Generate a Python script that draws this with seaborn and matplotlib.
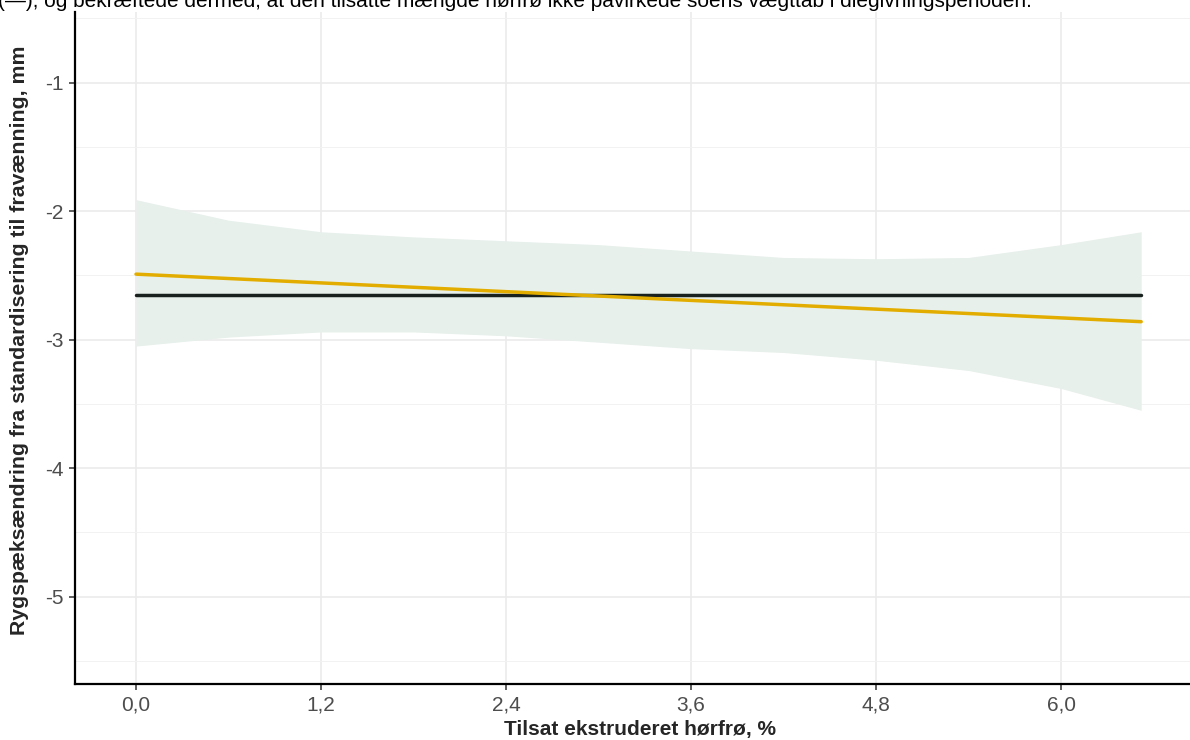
import numpy as np
import pandas as pd
import matplotlib
matplotlib.use('Agg')
import matplotlib.pyplot as plt
import seaborn as sns
from matplotlib.ticker import FixedLocator

# Data
ribbon_x = [0.0, 0.6, 1.2, 1.8, 2.4, 3.0, 3.6, 4.2, 4.8, 5.4, 6.0, 6.52]
ribbon_upper = [-1.91, -2.07, -2.16, -2.20, -2.23, -2.26, -2.31, -2.36, -2.37, -2.36, -2.26, -2.16]
ribbon_lower = [-3.05, -2.98, -2.94, -2.94, -2.97, -3.02, -3.07, -3.10, -3.16, -3.24, -3.38, -3.55]

mean_x = [0.0, 6.52]
mean_y = [-2.65, -2.65]

fit_x = [0.0, 6.52]
fit_y = [-2.49, -2.86]

x_ticks = [0.0, 1.2, 2.4, 3.6, 4.8, 6.0]
x_tick_labels = ['0,0', '1,2', '2,4', '3,6', '4,8', '6,0']
y_ticks = [-5, -4, -3, -2, -1]
y_minor = [-5.5, -4.5, -3.5, -2.5, -1.5, -0.5]

caption = ('(\u2014), og bekræftede dermed, at den tilsatte mængde hørfrø '
           'ikke påvirkede soens vægttab i diegivningsperioden.')

sns.set_theme(style='white')
plt.rcParams['font.family'] = ['Liberation Sans', 'DejaVu Sans']

fig = plt.figure(figsize=(11.9, 7.4), dpi=100)
ax = fig.add_axes([0.063, 0.0757, 0.95, 0.908])

# confidence ribbon
ax.fill_between(ribbon_x, ribbon_lower, ribbon_upper, color='#e7f0eb', lw=0, zorder=1)

mean_df = pd.DataFrame({'x': mean_x, 'y': mean_y})
fit_df = pd.DataFrame({'x': fit_x, 'y': fit_y})
sns.lineplot(data=mean_df, x='x', y='y', ax=ax, color='#18211d', linewidth=2.5, zorder=3)
sns.lineplot(data=fit_df, x='x', y='y', ax=ax, color='#e3ad00', linewidth=2.5, zorder=4)

ax.set_xlim(-0.396, 6.937)
ax.set_ylim(-5.68, -0.45)

ax.set_xticks(x_ticks)
ax.set_xticklabels(x_tick_labels)
ax.set_yticks(y_ticks)
ax.set_yticklabels([str(v) for v in y_ticks])
ax.yaxis.set_minor_locator(FixedLocator(y_minor))

ax.grid(True, which='major', color='#ebebeb', linewidth=1.2, zorder=0)
ax.grid(True, which='minor', axis='y', color='#f2f2f2', linewidth=0.7, zorder=0)
ax.set_axisbelow(True)

for s in ['top', 'right']:
    ax.spines[s].set_visible(False)
for s in ['left', 'bottom']:
    ax.spines[s].set_color('black')
    ax.spines[s].set_linewidth(1.6)

ax.tick_params(axis='both', which='major', direction='out', length=4.5, width=1.1,
               color='#333333', labelcolor='#4d4d4d', labelsize=15, pad=4)
ax.tick_params(axis='both', which='minor', length=0)
ax.tick_params(axis='x', bottom=True)
ax.tick_params(axis='y', left=True)

ax.set_xlabel('Tilsat ekstruderet hørfrø, %', fontsize=15, fontweight='bold', labelpad=4)
ax.set_ylabel('Rygspæksændring fra standardisering til fravænning, mm', fontsize=15.3,
              fontweight='bold')
ax.yaxis.set_label_coords(-0.0405, 0.511)

fig.text(-0.002, 1 - 7 / 740, caption, fontsize=15, color='black', ha='left', va='baseline')

fig.savefig('out.png', dpi=100)
